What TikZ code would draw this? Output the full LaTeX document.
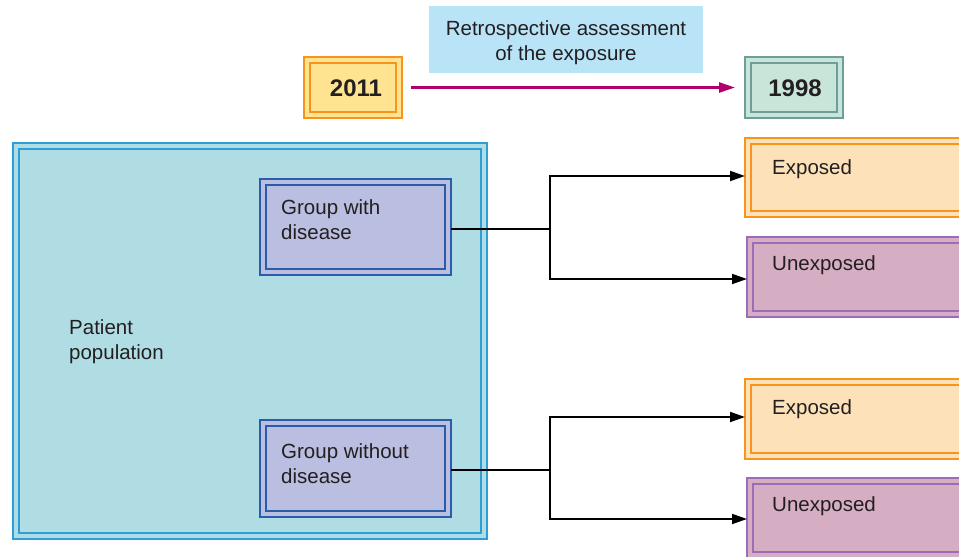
\documentclass[tikz,border=0pt]{standalone}
\usepackage{fontspec}
\setmainfont{Liberation Sans}
\usetikzlibrary{arrows.meta}
\definecolor{txt}{HTML}{231F20}
\definecolor{popfill}{HTML}{B0DDE3}
\definecolor{popline}{HTML}{2E9ED8}
\definecolor{grpfill}{HTML}{BABEE0}
\definecolor{grpline}{HTML}{2A5CAA}
\definecolor{yfill}{HTML}{FEE490}
\definecolor{oline}{HTML}{F7941E}
\definecolor{tfill}{HTML}{C8E5DA}
\definecolor{tline}{HTML}{6E9E9C}
\definecolor{retro}{HTML}{B9E4F7}
\definecolor{expfill}{HTML}{FDE2B9}
\definecolor{unfill}{HTML}{D5AEC4}
\definecolor{unline}{HTML}{9E6BB8}
\definecolor{arrowc}{HTML}{B1006C}
\tikzset{
  frame/.style={draw, line width=1.8pt, outer sep=0pt, inner sep=0pt, anchor=north west},
  lbl/.style={text=txt, font=\fontsize{20.5}{25}\selectfont, align=left, inner sep=0pt, anchor=north west},
  yr/.style={text=txt, font=\fontsize{24}{28}\selectfont\bfseries, inner sep=0pt},
  conn/.style={line width=1.8pt, black},
  tip/.style={-{Triangle[length=15pt,width=10pt]}},
}
\newcommand\dbox[7]{% name, line color, fill color, x, y, w, h
  \node[frame, draw=#2, fill=#3, minimum width=#6pt, minimum height=#7pt] (#1) at (#4,#5) {};
  \draw[#2, line width=1.4pt] ([shift={(6,6)}]#1.north west) rectangle ([shift={(-6,-6)}]#1.south east);
}
\begin{document}
\begin{tikzpicture}[x=1pt,y=-1pt]
\useasboundingbox (0,0) rectangle (959,557);
\clip (0,0) rectangle (959,557);
% patient population
\dbox{pop}{popline}{popfill}{13}{143}{474}{396}
\node[lbl] (poptxt) at (69,319) {Patient\\population};
% groups
\dbox{gw}{grpline}{grpfill}{260}{179}{191}{96}
\node[lbl] (gwtxt) at (281,199) {Group with\\disease};
\dbox{go}{grpline}{grpfill}{260}{420}{191}{97}
\node[lbl] (gotxt) at (281,443) {Group without\\disease};
% years
\dbox{y11}{oline}{yfill}{304}{57}{98}{61}
\node[yr] (y11txt) at (356,88) {2011};
\dbox{y98}{tline}{tfill}{745}{57}{98}{61}
\node[yr] (y98txt) at (795,88) {1998};
% retrospective label
\node[fill=retro, minimum width=274pt, minimum height=67pt, inner sep=0pt, anchor=north west] (retro) at (429,6) {};
\node[text=txt, font=\fontsize{20.5}{25}\selectfont, align=center, inner sep=0pt] (retrotxt) at (566,43) {Retrospective assessment\\of the exposure};
\draw[arrowc, line width=2.5pt, -{Triangle[length=16pt,width=10pt]}] ([xshift=9pt]y11.east) -- ([xshift=-10pt]y98.west);
% outcomes
\dbox{e1}{oline}{expfill}{745}{138}{230}{79}
\node[lbl] (e1txt) at (772,159) {Exposed};
\dbox{u1}{unline}{unfill}{747}{237}{230}{80}
\node[lbl] (u1txt) at (772,255) {Unexposed};
\dbox{e2}{oline}{expfill}{745}{379}{230}{80}
\node[lbl] (e2txt) at (772,399) {Exposed};
\dbox{u2}{unline}{unfill}{747}{478}{230}{80}
\node[lbl] (u2txt) at (772,496) {Unexposed};
% connectors
\coordinate (j1) at (550,229);
\coordinate (j2) at (550,470);
\draw[conn] (gw.east |- j1) -- (j1);
\draw[conn, tip] (j1) |- (e1.west |- 0,176);
\draw[conn, tip] (j1) |- (u1.west |- 0,279);
\draw[conn] (go.east |- j2) -- (j2);
\draw[conn, tip] (j2) |- (e2.west |- 0,417);
\draw[conn, tip] (j2) |- (u2.west |- 0,519);
\end{tikzpicture}
\end{document}
